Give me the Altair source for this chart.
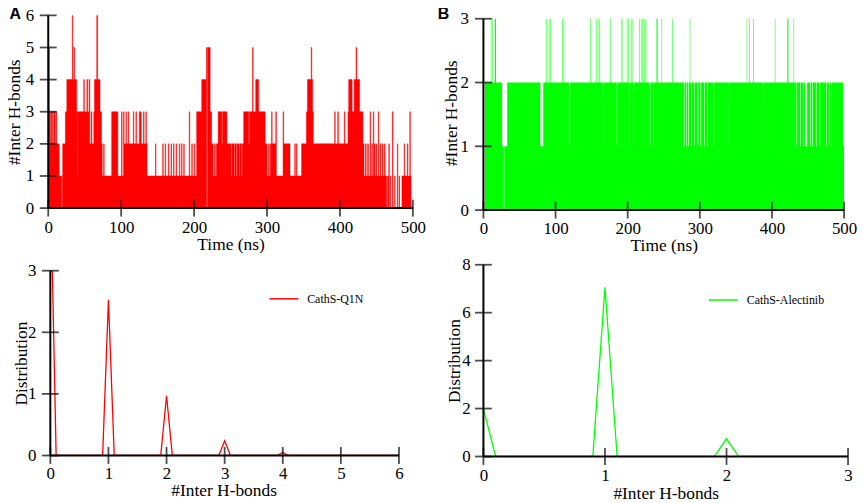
import altair as alt
import pandas as pd

# ---------------- data ----------------
# Panel A, top: CathS-Q1N, #Inter H-bonds vs time (ns); step breakpoints (time, value)
red_steps = [
    (0, 2), (0.5, 5), (1.5, 3), (3, 2), (4, 3), (5, 2), (6, 3), (7, 2), (8, 3), (9.5, 2), (10.5, 3), (11.5, 2),
    (15, 1), (18.3, 0), (19.3, 1), (19.8, 2), (23.5, 3), (25.5, 4), (33, 6), (33.7, 4), (35, 5), (36, 4),
    (39, 3), (40, 1), (40.7, 3), (48.7, 4), (49.5, 3), (53, 4), (54, 3), (56, 4), (57, 2), (59, 3), (60, 2),
    (62.5, 3), (63.5, 4), (66.5, 6), (67.7, 4), (71, 3), (73, 2), (74, 1), (76, 2), (76.7, 1),
    (87, 3), (95.5, 1), (100.5, 3), (101.3, 1), (103.3, 3), (104, 2), (106.5, 3), (107.2, 2), (109.7, 3), (110.4, 2),
    (116.7, 3), (117.4, 2), (120.2, 3), (120.9, 2), (125, 3), (127.5, 2), (130.7, 3), (131.4, 2), (133.8, 3), (134.5, 2),
    (135.5, 1), (147, 2), (147.7, 1), (157, 2), (157.7, 1), (160.3, 2), (161, 1), (164.7, 2), (165.4, 1), (168.4, 2), (169.1, 1),
    (171.8, 2), (172.5, 1), (175.3, 2), (176, 1), (179.8, 2), (180.5, 1), (182.8, 2), (183.5, 1), (185.8, 2), (186.5, 1),
    (193.3, 3), (194, 1), (196.8, 2), (197.5, 1), (199.8, 2), (200.5, 1), (203.5, 3), (210.5, 4), (217, 5), (217.2, 0),
    (218.2, 5), (222, 3), (224, 2), (226, 1), (228, 2), (229, 1), (230.5, 2), (233, 3), (238, 2), (239, 3), (245, 2),
    (251, 1), (252, 2), (255, 1), (256, 2), (258, 1), (259, 2), (262, 1), (263, 2), (265, 1), (266, 2),
    (268, 3), (275, 2), (276, 3), (280.2, 5), (281, 3), (284.5, 4), (288.5, 3), (297.5, 2),
    (300, 1), (302, 2), (303, 1), (304.5, 2), (306.3, 3), (307, 2), (312, 3), (312.8, 1),
    (322, 3), (322.8, 2), (331.5, 1), (338, 2), (338.8, 1), (340.3, 2), (341, 1), (347.4, 2),
    (354, 3), (355.5, 4), (360.6, 5), (361.4, 4), (362.5, 3), (363.5, 2),
    (392.8, 3), (393.5, 2), (397, 3), (397.8, 2), (406, 3), (406.8, 2),
    (411, 3), (412, 4), (416.7, 3), (419.5, 4), (422, 5), (423, 4), (427, 3),
    (431.5, 2), (433, 1), (435, 2), (436, 1), (438, 2), (439, 1), (441.3, 3), (442, 1), (443.5, 2), (444.5, 1),
    (445.8, 3), (446.5, 2), (448, 1), (449.5, 2), (450.5, 1), (452.6, 3), (453.3, 1), (455, 2), (456, 1),
    (458, 2), (459, 1), (461, 2), (462, 1),
    (463.3, 0), (464, 1), (465, 0), (466, 1), (467, 2), (467.7, 0), (469, 1), (469.7, 0), (472, 3), (472.8, 0),
    (475, 1), (475.7, 0), (478.7, 2), (479.4, 0), (481, 1), (481.7, 0), (485, 1), (488, 2), (488.7, 1),
    (492.5, 2), (493.3, 1), (495.8, 3), (496.5, 1), (497.5, 0), (500, 0),
]

# Panel B, top: CathS-Alectinib, #Inter H-bonds vs time (ns); step breakpoints (time, value)
green_steps = [
    (0, 0), (2, 2), (10.3, 3), (11, 2), (12.2, 3), (12.9, 2), (15.8, 3), (17.5, 2), (26, 1), (28.3, 0), (29, 1),
    (33, 2), (79, 1), (83, 2), (87, 3), (87.7, 2), (90.7, 3), (91.4, 2), (92.3, 3), (93, 2),
    (109, 3), (109.7, 2), (111.2, 3), (111.9, 2), (119.3, 1), (120.2, 2), (148, 3), (148.7, 2),
    (156, 3), (156.7, 2), (158.6, 3), (159.3, 2), (161, 3), (161.7, 2), (166, 1), (166.8, 2),
    (176, 3), (176.7, 2), (185, 1), (185.8, 2), (191.5, 3), (192.6, 2), (198.8, 3), (199.5, 2),
    (200.8, 3), (201.5, 2), (202, 1), (202.8, 2), (204.4, 3), (205, 2), (205.8, 3), (206.5, 2),
    (208, 1), (208.8, 2), (216, 3), (216.7, 2), (218.3, 3), (219, 2), (220.5, 3), (221.2, 2),
    (222.8, 3), (223.5, 2), (225, 3), (225.7, 2), (230.5, 1), (231.3, 2), (235.5, 1), (236.3, 2),
    (240, 3), (241.5, 2), (247, 3), (247.7, 2), (262, 3), (262.7, 2), (278, 1), (278.8, 2),
    (281, 1), (281.8, 2), (284, 1), (284.8, 2), (286, 3), (286.7, 2), (288, 1), (288.8, 2),
    (292, 1), (292.8, 2), (297, 1), (297.8, 2), (301, 1), (301.8, 2), (306, 1), (306.8, 2),
    (310, 1), (310.8, 2), (319, 1), (319.8, 2), (341, 1), (341.8, 2), (365, 3), (365.7, 2),
    (368.3, 3), (369, 2), (374.3, 3), (375, 2), (388, 1), (388.8, 2), (404, 3), (404.7, 2),
    (421.3, 3), (422.8, 2), (430, 3), (430.7, 2), (434, 1), (434.8, 2), (439, 1), (439.8, 2),
    (443, 1), (443.8, 2), (446, 1), (448.8, 2), (453, 1), (453.8, 2), (456, 1), (456.8, 2),
    (461, 1), (461.8, 2), (466, 1), (466.8, 2), (475, 1), (475.8, 2), (479, 1), (479.8, 2),
    (482, 1), (482.8, 2), (498.5, 1), (500, 1),
]

# Bottom panels: distributions of #Inter H-bonds
dist_red_x = [0, 0.1, 0.9, 1.0, 1.1, 1.9, 2.0, 2.1, 2.9, 3.0, 3.1, 3.9, 4.0, 4.1, 6.0]
dist_red_y = [4.6, 0, 0, 2.53, 0, 0, 0.97, 0, 0, 0.24, 0, 0, 0.05, 0, 0]
dist_green_x = [0, 0.1, 0.9, 1.0, 1.1, 1.9, 2.0, 2.1, 3.0]
dist_green_y = [2.0, 0, 0, 7.06, 0, 0, 0.74, 0, 0]

red_name = "CathS-Q1N"
green_name = "CathS-Alectinib"

# tick positions of each axis
time_ticks = [0, 100, 200, 300, 400, 500]
red_hb_ticks = [0, 1, 2, 3, 4, 5, 6]
green_hb_ticks = [0, 1, 2, 3]
red_count_ticks = [0, 1, 2, 3, 4, 5, 6]
red_dist_ticks = [0, 1, 2, 3]
green_count_ticks = [0, 1, 2, 3]
green_dist_ticks = [0, 2, 4, 6, 8]

RED = "#ff0000"
GREEN = "#00ff00"
SERIF = "Liberation Serif"


def make_axis(title, ticks, label_pad, title_pad):
    # tickCount reproduces the tick list (evenly spaced) and keeps the layer axes mergeable
    return alt.Axis(
        title=title, tickCount=len(ticks) - 1, format="d", domain=False, ticks=False, tickSize=0, grid=False,
        labelFont=SERIF, labelFontSize=17, labelColor="black", labelPadding=label_pad,
        labelFlush=False, labelOverlap=False,
        titleFont=SERIF, titleFontSize=17.5, titleFontWeight="normal", titleColor="black",
        titlePadding=title_pad,
    )


def frame_layers(xs, ys, xax, yax, xticks, yticks):
    """Axis lines and crossing ticks drawn through the chart scales."""
    xline = alt.Chart(pd.DataFrame({"a": [xticks[0]], "b": [xticks[-1]], "c": [yticks[0]]})).mark_rule(
        color="black", strokeWidth=2
    ).encode(
        x=alt.X("a:Q", scale=xs, axis=xax), x2="b:Q", y=alt.Y("c:Q", scale=ys, axis=yax)
    )
    yline = alt.Chart(pd.DataFrame({"a": [xticks[0]], "b": [yticks[0]], "c": [yticks[-1]]})).mark_rule(
        color="black", strokeWidth=2
    ).encode(
        x=alt.X("a:Q", scale=xs, axis=xax), y=alt.Y("b:Q", scale=ys, axis=yax), y2="c:Q"
    )
    xt = alt.Chart(pd.DataFrame({"v": xticks, "z": [yticks[0]] * len(xticks)})).mark_tick(
        orient="vertical", size=17, thickness=1.8, color="black"
    ).encode(x=alt.X("v:Q", scale=xs, axis=xax), y=alt.Y("z:Q", scale=ys, axis=yax))
    yt = alt.Chart(pd.DataFrame({"v": yticks, "z": [xticks[0]] * len(yticks)})).mark_tick(
        orient="horizontal", size=17, thickness=1.8, color="black"
    ).encode(y=alt.Y("v:Q", scale=ys, axis=yax), x=alt.X("z:Q", scale=xs, axis=xax))
    return [xline, yline, xt, yt]


def letter(txt, dx, dy):
    return alt.Chart(pd.DataFrame({"lab": [txt]})).mark_text(
        align="left", baseline="middle", font="Liberation Sans", fontSize=16, fontWeight="bold", color="black"
    ).encode(x=alt.value(dx), y=alt.value(dy), text="lab:N")


# ---------------- top left (A) ----------------
xs_tl = alt.Scale(domain=[0, 500], nice=False, zero=False)
ys_tl = alt.Scale(domain=[0, 6], nice=False, zero=False)
xa_tl = make_axis("Time (ns)", time_ticks, 11.5, 0)
ya_tl = make_axis("#Inter H-bonds", red_hb_ticks, 14.75, 1.4)
df_red = pd.DataFrame({"t": [p[0] for p in red_steps], "v": [p[1] for p in red_steps]})
area_red = alt.Chart(df_red).mark_area(
    interpolate="step-after", color=RED, stroke=RED, strokeWidth=0.5, clip=True
).encode(
    x=alt.X("t:Q", scale=xs_tl, axis=xa_tl),
    y=alt.Y("v:Q", scale=ys_tl, axis=ya_tl),
)
tl = alt.layer(
    area_red, *frame_layers(xs_tl, ys_tl, xa_tl, ya_tl, time_ticks, red_hb_ticks), letter("A", -39, -1.3)
).properties(width=367, height=194)

# ---------------- top right (B) ----------------
xs_tr = alt.Scale(domain=[0, 500], nice=False, zero=False)
ys_tr = alt.Scale(domain=[0, 3.053], nice=False, zero=False)
xa_tr = make_axis("Time (ns)", time_ticks, 11, 0)
ya_tr = make_axis("#Inter H-bonds", green_hb_ticks, 15, -0.4)
df_green = pd.DataFrame({"t": [p[0] for p in green_steps], "v": [p[1] for p in green_steps]})
area_green = alt.Chart(df_green).mark_area(interpolate="step-after", color=GREEN, clip=True).encode(
    x=alt.X("t:Q", scale=xs_tr, axis=xa_tr),
    y=alt.Y("v:Q", scale=ys_tr, axis=ya_tr),
)
tr = alt.layer(
    area_green, *frame_layers(xs_tr, ys_tr, xa_tr, ya_tr, time_ticks, green_hb_ticks), letter("B", -46, -1.3)
).properties(width=363, height=196)

# ---------------- bottom left ----------------
xs_bl = alt.Scale(domain=[-0.036, 6], nice=False, zero=False)
ys_bl = alt.Scale(domain=[0, 3], nice=False, zero=False)
xa_bl = make_axis("#Inter H-bonds", red_count_ticks, 9.7, 1)
ya_bl = make_axis("Distribution", red_dist_ticks, 12.5, -2.7)
df_dr = pd.DataFrame({"x": dist_red_x, "y": dist_red_y, "s": [red_name] * len(dist_red_x)})
line_red = alt.Chart(df_dr).mark_line(strokeWidth=1.3, clip=True).encode(
    x=alt.X("x:Q", scale=xs_bl, axis=xa_bl),
    y=alt.Y("y:Q", scale=ys_bl, axis=ya_bl),
    color=alt.Color(
        "s:N", scale=alt.Scale(domain=[red_name], range=[RED]),
        legend=alt.Legend(
            orient="none", legendX=221.6, legendY=12.8, title=None, symbolType="stroke", symbolSize=841,
            symbolStrokeWidth=1.5, labelFont=SERIF, labelFontSize=12, labelColor="black", labelOffset=8, padding=0,
        ),
    ),
)
bl = alt.layer(
    line_red, *frame_layers(xs_bl, ys_bl, xa_bl, ya_bl, red_count_ticks, red_dist_ticks)
).properties(width=353, height=186)

# ---------------- bottom right ----------------
xs_br = alt.Scale(domain=[0, 3], nice=False, zero=False)
ys_br = alt.Scale(domain=[0, 8], nice=False, zero=False)
xa_br = make_axis("#Inter H-bonds", green_count_ticks, 10.8, 1)
ya_br = make_axis("Distribution", green_dist_ticks, 13.4, -1.7)
df_dg = pd.DataFrame({"x": dist_green_x, "y": dist_green_y, "s": [green_name] * len(dist_green_x)})
line_green = alt.Chart(df_dg).mark_line(strokeWidth=1.3, clip=True).encode(
    x=alt.X("x:Q", scale=xs_br, axis=xa_br),
    y=alt.Y("y:Q", scale=ys_br, axis=ya_br),
    color=alt.Color(
        "s:N", scale=alt.Scale(domain=[green_name], range=[GREEN]),
        legend=alt.Legend(
            orient="none", legendX=226, legendY=20, title=None, symbolType="stroke", symbolSize=841,
            symbolStrokeWidth=1.5, labelFont=SERIF, labelFontSize=12, labelColor="black", labelOffset=8, padding=0,
        ),
    ),
)
br = alt.layer(
    line_green, *frame_layers(xs_br, ys_br, xa_br, ya_br, green_count_ticks, green_dist_ticks)
).properties(width=367, height=193)

col1 = alt.vconcat(tl, bl, spacing=63, bounds="flush").resolve_scale(color="independent")
col2 = alt.vconcat(tr, br, spacing=55, bounds="flush").resolve_scale(color="independent")

chart = (
    alt.hconcat(col1, col2, spacing=12)
    .resolve_scale(color="independent")
    .properties(padding={"left": -2.5, "top": -4.2, "right": 0, "bottom": 0}, background="white")
    .configure_axis(titleFontWeight="normal")
    .configure_view(stroke=None)
)

chart.save("out.html", embed_options={"renderer": "svg", "actions": False})
